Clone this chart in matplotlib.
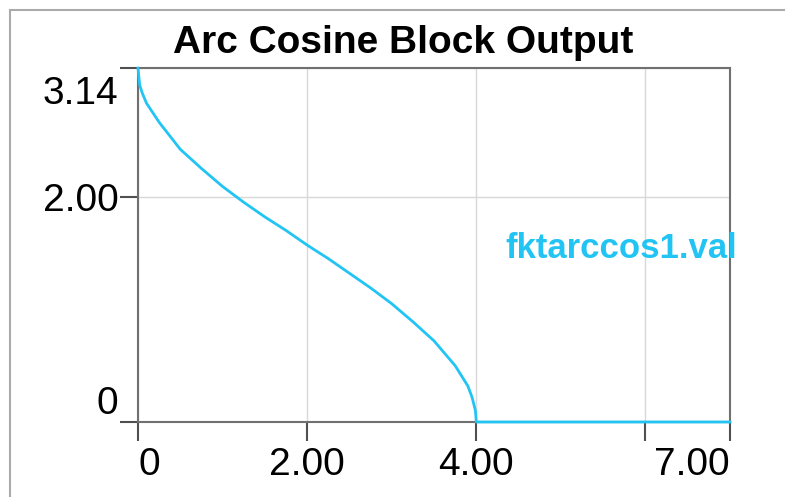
import matplotlib.pyplot as plt
from matplotlib.patches import Rectangle
from matplotlib.transforms import offset_copy

# Werte
zeit = [0.0, 0.02, 0.05, 0.1, 0.25, 0.5, 0.75, 1.0, 1.25, 1.5, 1.75, 2.0,
        2.25, 2.5, 2.75, 3.0, 3.25, 3.5, 3.75, 3.9, 3.95, 3.99, 4.0, 7.0]
wert = [3.14, 2.99, 2.92, 2.83, 2.66, 2.42, 2.25, 2.09, 1.95, 1.82, 1.70, 1.57,
        1.45, 1.32, 1.19, 1.05, 0.89, 0.72, 0.50, 0.32, 0.22, 0.10, 0.0, 0.0]

x_ticks = [0, 2, 4, 6, 7]
x_labels = ["0", "2.00", "4.00", "", "7.00"]
y_ticks = [0, 2, 3.14159]
y_labels = ["0", "2.00", "3.14"]

titel = "Arc Cosine Block Output"
signal = "fktarccos1.val"
farbe = "#22c4f4"

plt.rcParams['font.family'] = ['Liberation Sans', 'DejaVu Sans']

fig = plt.figure(figsize=(7.85, 4.97), dpi=100)
ax = fig.add_axes([138 / 785, 1 - 422 / 497, 592 / 785, 354 / 497])

ax.plot(zeit, wert, color=farbe, lw=2.0, clip_on=False, zorder=5)

ax.set_xlim(0, 7)
ax.set_ylim(0, 3.14159)
ax.set_xticks(x_ticks)
ax.set_xticklabels(x_labels, fontsize=28)
ax.set_yticks(y_ticks)
ax.set_yticklabels(y_labels, fontsize=28)

ax.grid(True, color="#d8d8d8", lw=1.0)
for s in ax.spines.values():
    s.set_color("#707070")
    s.set_linewidth(1.5)

ax.tick_params(axis='x', length=14, width=1.5, color="#505050", pad=4)
ax.tick_params(axis='y', length=13, width=1.5, color="#505050", pad=1)

# Randbeschriftungen nach innen schieben
xl = ax.get_xticklabels()
xl[0].set_ha('left')
xl[-1].set_ha('right')
yl = ax.get_yticklabels()
yl[0].set_va('bottom')
yl[-1].set_va('top')
yl[-1].set_transform(offset_copy(yl[-1].get_transform(), fig=fig, y=-8, units='dots'))

fig.text(403 / 785, 1 - 53 / 497, titel, fontsize=28, fontweight='bold',
         ha='center', va='baseline')
ax.text(0.62, 0.49, signal, transform=ax.transAxes, color=farbe,
        fontsize=25, fontweight='bold', ha='left', va='center')

# grauer Rahmen
fig.patches.append(Rectangle((10 / 785, -0.1), 1.2, 1 - 10 / 497 + 0.1,
                             transform=fig.transFigure, fill=False,
                             edgecolor="#aaaaaa", lw=1.5))

fig.savefig("out.png", dpi=100)
